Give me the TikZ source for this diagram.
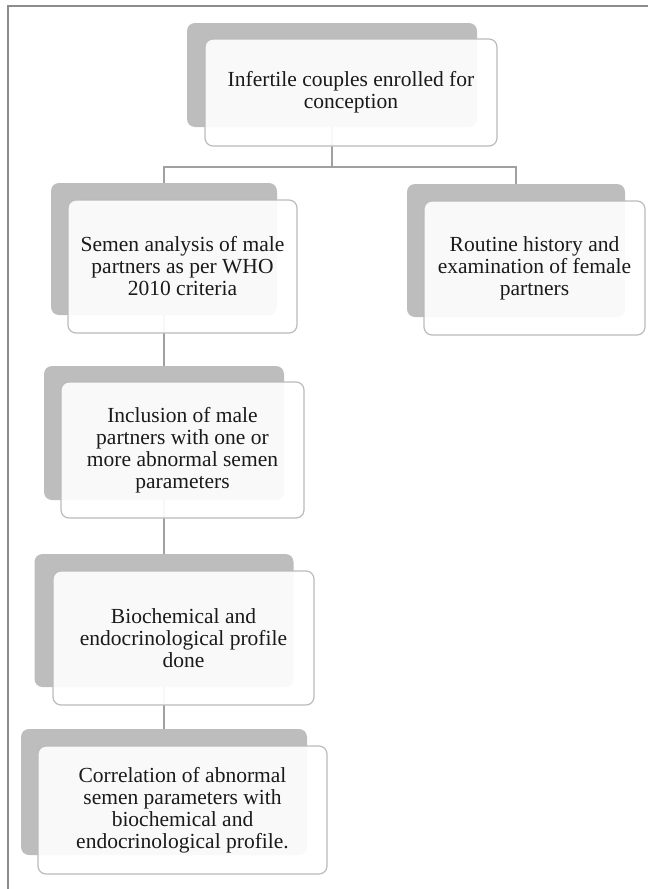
\documentclass[tikz,border=0pt]{standalone}
\usepackage{fontspec}
\setmainfont{Liberation Serif}
\definecolor{backgrey}{HTML}{BDBDBD}
\definecolor{edgegrey}{HTML}{BBBBBB}
\definecolor{linegrey}{HTML}{A0A0A0}
\definecolor{framegrey}{HTML}{8C8C8C}
\definecolor{txt}{HTML}{1A1A1A}
\begin{document}
\begin{tikzpicture}[x=1pt,y=-1pt,
  backbox/.style={rectangle, rounded corners=8pt, fill=backgrey, draw=none, inner sep=0pt},
  frontbox/.style={rectangle, rounded corners=8pt, fill=white, fill opacity=0.92, text opacity=1,
     draw=edgegrey, line width=1.2pt, inner sep=0pt, align=center, text=txt,
     font=\fontsize{21.5}{22}\selectfont},
  conn/.style={draw=linegrey, line width=1.3pt},
  frame/.style={draw=framegrey, line width=2pt}]
\useasboundingbox (0,0) rectangle (648,889);
\draw[frame] (648,6) -- (7.5,6) -- (7.5,889);

% back boxes
\node[backbox, minimum width=290pt, minimum height=104pt] (b1back) at (332,75) {};
\node[backbox, minimum width=226pt, minimum height=132pt] (b2back) at (164,249) {};
\node[backbox, minimum width=218pt, minimum height=133pt] (rback) at (516,250.5) {};
\node[backbox, minimum width=240pt, minimum height=134pt] (b3back) at (164,433) {};
\node[backbox, minimum width=259pt, minimum height=133pt] (b4back) at (164,620.5) {};
\node[backbox, minimum width=286pt, minimum height=126pt] (b5back) at (164,792) {};

% connectors
\coordinate (j) at (332,167);
\draw[conn] (b1back.south) -- (j);
\draw[conn] (b2back.north) |- (j) -| (rback.north);
\draw[conn] (b2back.south) -- (b3back.north);
\draw[conn] (b3back.south) -- (b4back.north);
\draw[conn] (b4back.south) -- (b5back.north);

% front boxes
\node[frontbox, minimum width=292pt, minimum height=107pt] (b1) at (351,92.5)
  {Infertile couples enrolled for\\conception};
\node[frontbox, minimum width=229pt, minimum height=133pt] (b2) at (182.5,266.5)
  {Semen analysis of male\\partners as per WHO\\2010 criteria};
\node[frontbox, minimum width=221pt, minimum height=134pt] (r) at (534.5,268)
  {Routine history and\\examination of female\\partners};
\node[frontbox, minimum width=243pt, minimum height=136pt] (b3) at (182.5,450)
  {Inclusion of male\\partners with one or\\more abnormal semen\\parameters};
\node[frontbox, minimum width=261pt, minimum height=134pt] (b4) at (183.5,638)
  {Biochemical and\\endocrinological profile\\done};
\node[frontbox, minimum width=289pt, minimum height=128pt] (b5) at (182.5,810)
  {Correlation of abnormal\\semen parameters with\\biochemical and\\endocrinological profile.};
\end{tikzpicture}
\end{document}
